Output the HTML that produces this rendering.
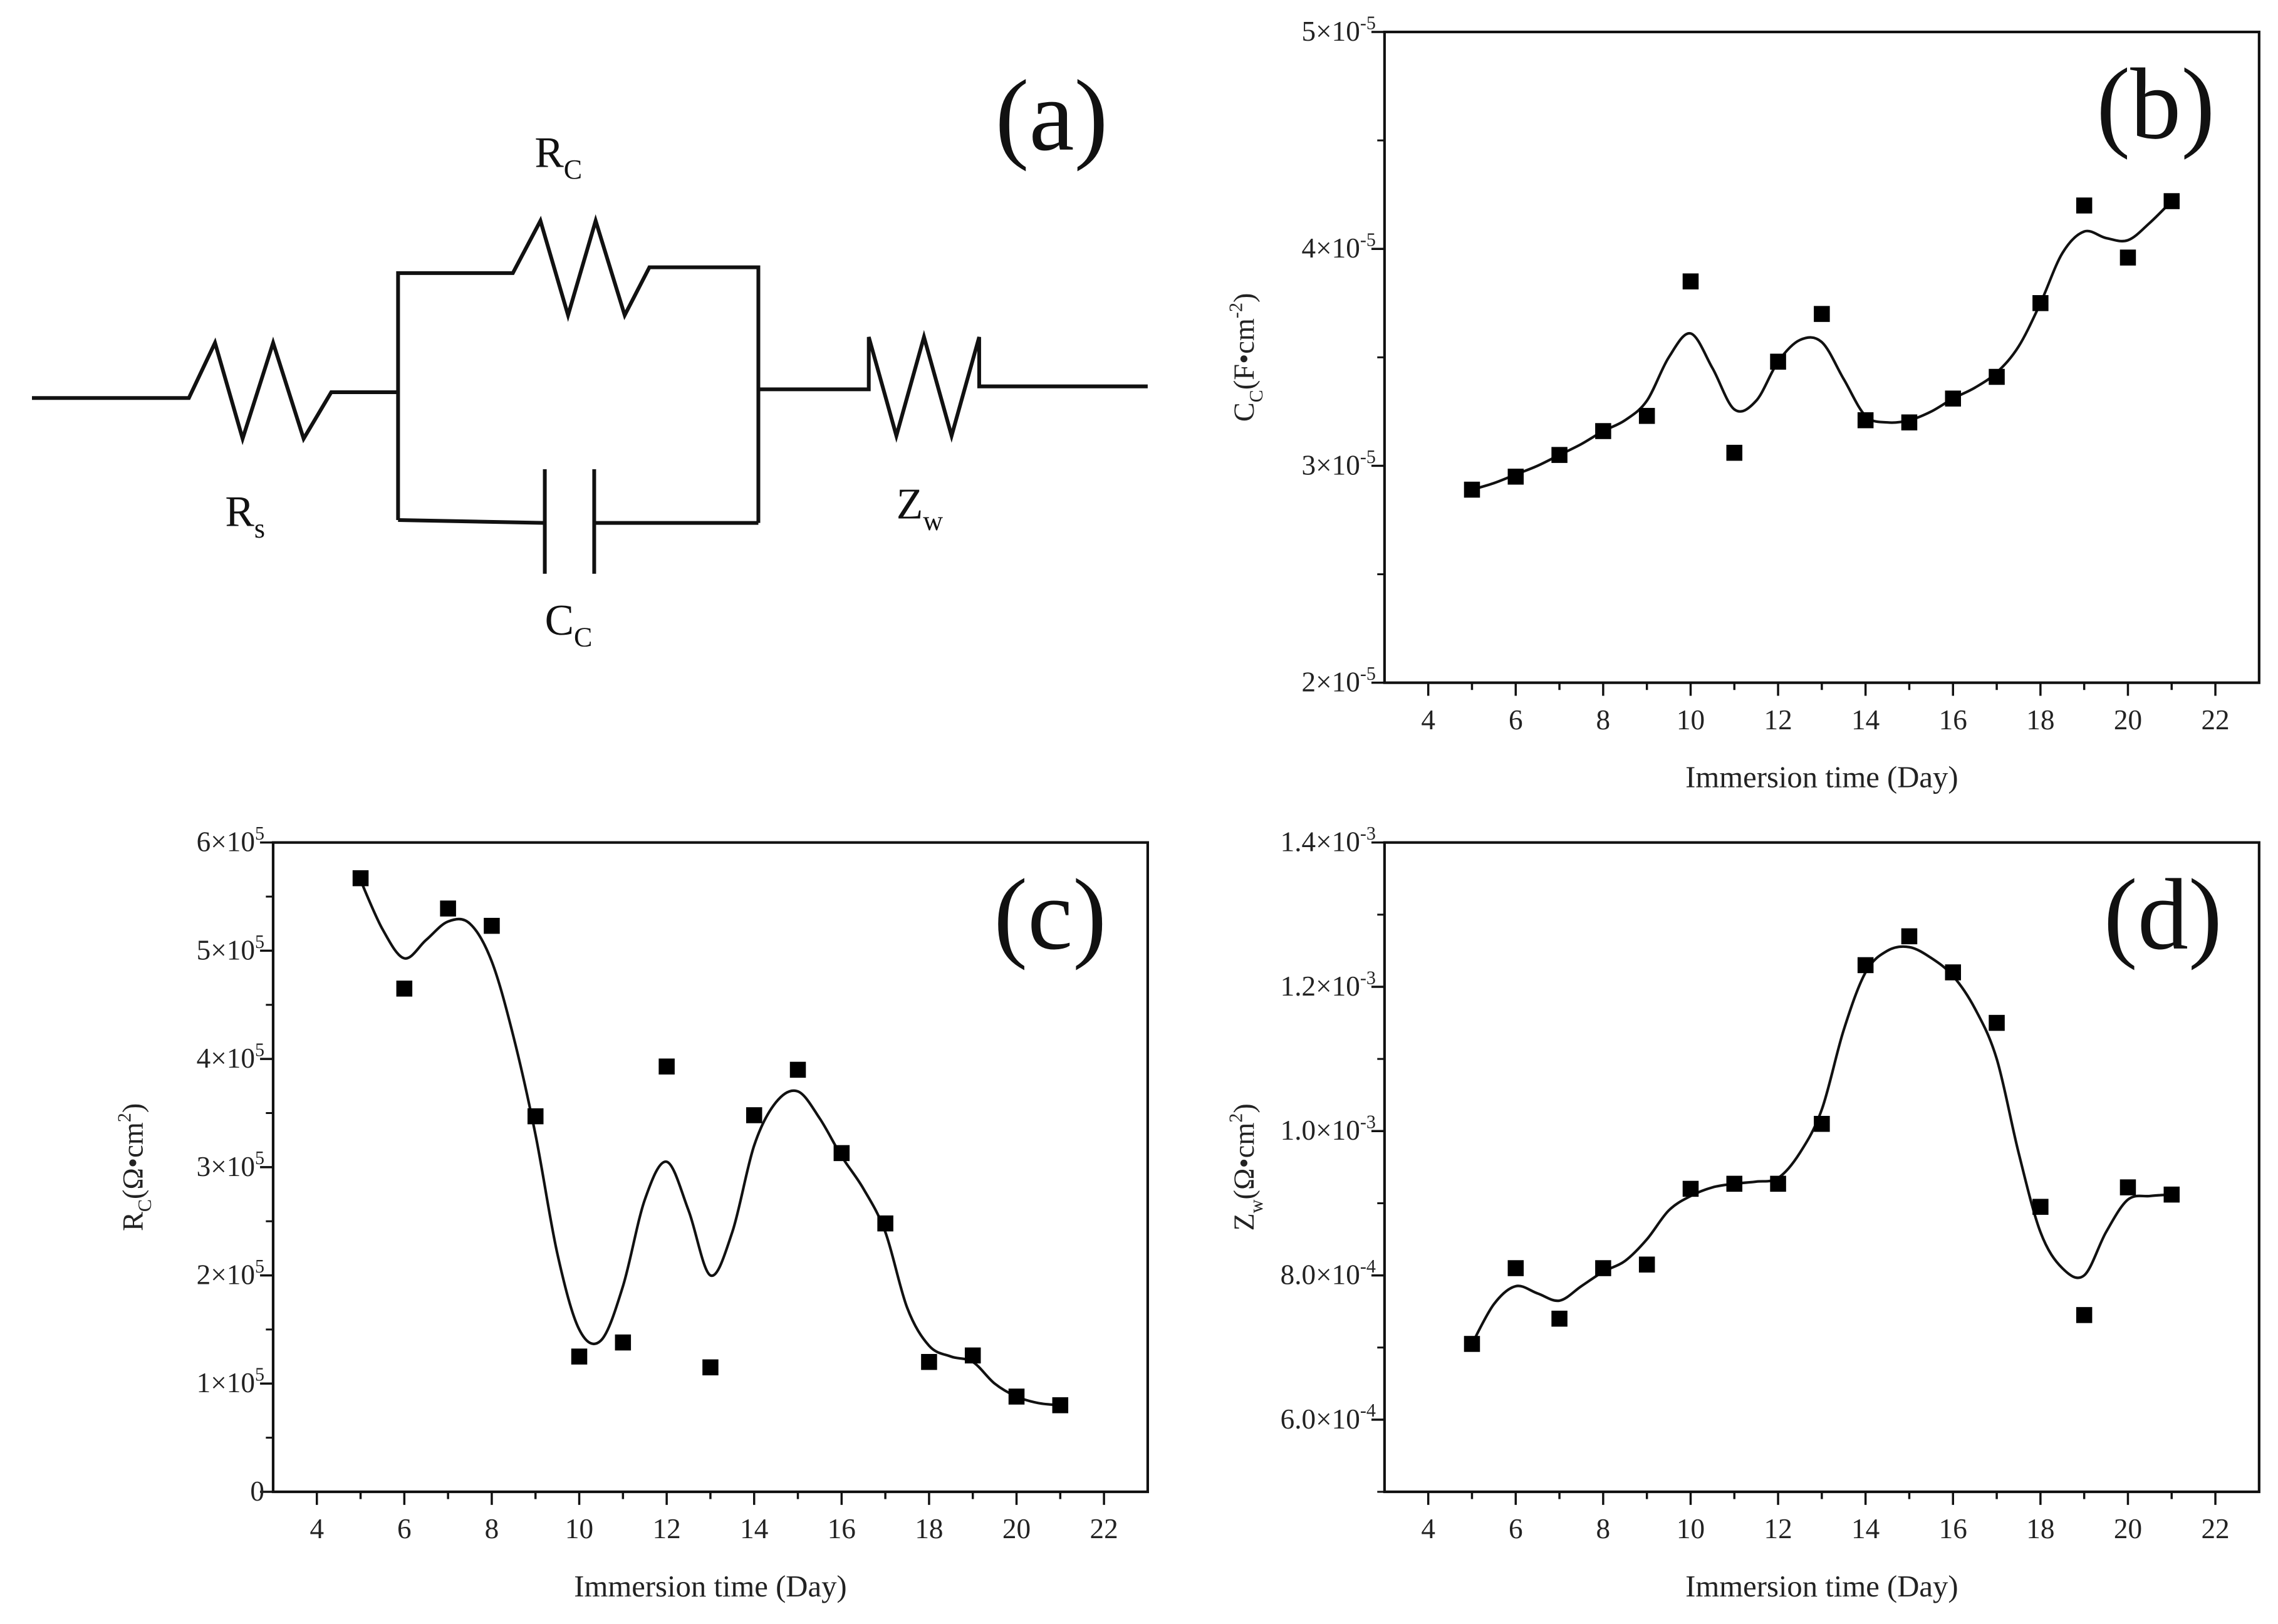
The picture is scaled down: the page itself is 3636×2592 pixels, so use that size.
<!DOCTYPE html>
<html><head><meta charset="utf-8"><style>
html,body{margin:0;padding:0;background:#fff;}
svg{display:block;font-family:"Liberation Serif",serif;}
</style></head><body>
<svg id="fig" width="3636" height="2592" viewBox="0 0 1568 1118" preserveAspectRatio="none" xmlns="http://www.w3.org/2000/svg">
<rect width="1568" height="1118" fill="#fff"/>
<g id="circuit" fill="none" stroke="#111" stroke-width="2.6" stroke-linejoin="miter">
  <polyline points="22,274 130,274 148,236 167,302 188,236 209,302 228,270 274,270"/>
  <polyline points="274,358 274,188 353,188 372,152 391,217 410,152 430,217 447,184 522,184 522,360"/>
  <polyline points="274,358 375,360"/>
  <polyline points="409,360 522,360"/>
  <line x1="375" y1="323" x2="375" y2="395"/>
  <line x1="409" y1="323" x2="409" y2="395"/>
  <polyline points="522,268 598,268 598,232 617,300 636,232 655,300 674,232 674,266 682,266 790,266"/>
</g>
<g font-size="30" fill="#111">
  <text x="368" y="115">R<tspan font-size="19" dy="8">C</tspan></text>
  <text x="155" y="362">R<tspan font-size="19" dy="8">s</tspan></text>
  <text x="375" y="437">C<tspan font-size="19" dy="8">C</tspan></text>
  <text x="617" y="357">Z<tspan font-size="19" dy="8">w</tspan></text>
</g>
<text x="685" y="103" font-size="70" fill="#111">(a)</text>
<g id="charts"></g>
</svg>
<script>
// Panel (b) data
const daysB = [5,6,7,8,9,10,11,12,13,14,15,16,17,18,19,20,21];
const valuesB = [2.89,2.95,3.05,3.16,3.23,3.85,3.06,3.48,3.70,3.21,3.20,3.31,3.41,3.75,4.20,3.96,4.22];
const fitDaysB = [5,5.5,6,6.5,7,7.5,8,8.5,9,9.5,10,10.5,11,11.5,12,12.5,13,13.5,14,14.5,15,15.5,16,16.5,17,17.5,18,18.5,19,19.5,20,20.5,21];
const fitB = [2.89,2.92,2.96,3.0,3.05,3.1,3.16,3.21,3.3,3.5,3.61,3.45,3.26,3.3,3.48,3.58,3.57,3.4,3.23,3.2,3.21,3.25,3.31,3.36,3.43,3.55,3.75,3.98,4.08,4.05,4.04,4.12,4.22];
const yTicksB = ["2×10","3×10","4×10","5×10"];
// Panel (c) data
const daysC = [5,6,7,8,9,10,11,12,13,14,15,16,17,18,19,20,21];
const valuesC = [5.67,4.65,5.39,5.23,3.47,1.25,1.38,3.93,1.15,3.48,3.90,3.13,2.48,1.20,1.26,0.88,0.80];
const fitDaysC = fitDaysB;
const fitC = [5.65,5.2,4.93,5.1,5.27,5.25,4.9,4.2,3.3,2.2,1.5,1.4,1.9,2.7,3.05,2.6,2.0,2.4,3.2,3.6,3.7,3.45,3.1,2.8,2.4,1.7,1.35,1.25,1.2,1.0,0.88,0.82,0.80];
// Panel (d) data
const daysD = [5,6,7,8,9,10,11,12,13,14,15,16,17,18,19,20,21];
const valuesD = [7.05,8.1,7.4,8.1,8.15,9.2,9.27,9.27,10.1,12.3,12.7,12.2,11.5,8.95,7.45,9.22,9.12];
const fitDaysD = fitDaysB;
const fitD = [7.05,7.6,7.85,7.75,7.65,7.85,8.05,8.2,8.5,8.9,9.1,9.22,9.27,9.3,9.35,9.7,10.3,11.4,12.2,12.5,12.55,12.4,12.15,11.7,11.0,9.7,8.6,8.1,8.0,8.6,9.05,9.1,9.12];
const xTickLabels = ["4","6","8","10","12","14","16","18","20","22"];

const NS="http://www.w3.org/2000/svg";
const root=document.getElementById('charts');
function mk(tag,attrs,parent){const e=document.createElementNS(NS,tag);for(const k in attrs)e.setAttribute(k,attrs[k]);(parent||root).appendChild(e);return e;}

function chart(cfg){
  const g=mk('g',{});
  
  
  const L=cfg.L,R=cfg.R,T=cfg.T,B=cfg.B;
  const xs=v=>L+(v-3)/(23-3)*(R-L);
  const ys=v=>B-(v-cfg.ymin)/(cfg.ymax-cfg.ymin)*(B-T);
  const frame=mk('rect',{x:L,y:T,width:R-L,height:B-T,fill:'none',stroke:'#111','stroke-width':1.8},g);
  
  
  for(let d=4;d<=22;d++){
    const major=d%2===0;
    mk('line',{x1:xs(d),x2:xs(d),y1:B,y2:B+(major?9:5),stroke:'#111','stroke-width':1.5},g);
  }
  xTickLabels.forEach(s=>{
    const t=mk('text',{x:xs(+s),y:B+32,'font-size':19.5,'text-anchor':'middle',fill:'#222'},g);
    t.textContent=s;
    
    
  });
  cfg.yMajor.forEach((v,i)=>{
    mk('line',{x1:L,x2:L-9,y1:ys(v),y2:ys(v),stroke:'#111','stroke-width':1.5},g);
    const t=mk('text',{x:L-6,y:ys(v)+6,'font-size':19.5,'text-anchor':'end',fill:'#222'},g);
    
    
    const lab=cfg.yLabels[i];
    if(lab.exp){
      const a=document.createElementNS(NS,'tspan');a.textContent=lab.m;t.appendChild(a);
      const b=document.createElementNS(NS,'tspan');b.setAttribute('dy','-8');b.setAttribute('font-size','13');b.textContent=lab.exp;t.appendChild(b);
      const c=document.createElementNS(NS,'tspan');c.setAttribute('dy','8');c.textContent='\u200b';t.appendChild(c);
    } else t.textContent=lab.m;
  });
  cfg.yMinor.forEach(v=>mk('line',{x1:L,x2:L-5,y1:ys(v),y2:ys(v),stroke:'#111','stroke-width':1.3},g));
  const P=cfg.fx.map((x,i)=>[xs(x),ys(cfg.fy[i])]);
  let d='M'+P[0][0]+','+P[0][1];
  for(let i=0;i<P.length-1;i++){
    const p0=P[i-1]||P[i],p1=P[i],p2=P[i+1],p3=P[i+2]||P[i+1];
    d+=' C'+(p1[0]+(p2[0]-p0[0])/6)+','+(p1[1]+(p2[1]-p0[1])/6)+' '+(p2[0]-(p3[0]-p1[0])/6)+','+(p2[1]-(p3[1]-p1[1])/6)+' '+p2[0]+','+p2[1];
  }
  const path=mk('path',{d:d,fill:'none',stroke:'#111','stroke-width':1.8},g);
  
  
  cfg.px.forEach((x,i)=>{
    const r=mk('rect',{x:xs(x)-5.5,y:ys(cfg.py[i])-5.5,width:11,height:11,fill:'#000'},g);
    
    
  });
  const xt=mk('text',{x:(L+R)/2,y:B+72,'font-size':21,'text-anchor':'middle',fill:'#222'},g);
  xt.textContent='Immersion time (Day)';
  
  
  const yt=mk('text',{transform:`translate(${L-90},${(T+B)/2}) rotate(-90)`,'font-size':20,'text-anchor':'middle',fill:'#222'},g);
  
  
  yt.innerHTML=cfg.ytitle;
  const pl=mk('text',{x:cfg.plx,y:T+73,'font-size':70,fill:'#111'},g);
  pl.textContent=cfg.panel;
  
  
}

chart({name:'chart-b-capacitance',L:953,R:1555,T:22,B:470,ymin:2,ymax:5,yMajor:[2,3,4,5],yMinor:[2.5,3.5,4.5],
  yLabels:yTicksB.map(s=>({m:s,exp:'-5'})),fx:fitDaysB,fy:fitB,px:daysB,py:valuesB,panel:'(b)',plx:1443,
  ytitle:'C<tspan font-size="13" dy="6">C</tspan><tspan dy="-6">(F•cm</tspan><tspan font-size="13" dy="-8">-2</tspan><tspan dy="8">)</tspan>'});
chart({name:'chart-c-resistance',L:188,R:790,T:580,B:1027,ymin:0,ymax:6,yMajor:[0,1,2,3,4,5,6],yMinor:[0.5,1.5,2.5,3.5,4.5,5.5],
  yLabels:[{m:'0'},{m:'1×10',exp:'5'},{m:'2×10',exp:'5'},{m:'3×10',exp:'5'},{m:'4×10',exp:'5'},{m:'5×10',exp:'5'},{m:'6×10',exp:'5'}],
  fx:fitDaysC,fy:fitC,px:daysC,py:valuesC,panel:'(c)',plx:684,
  ytitle:'R<tspan font-size="13" dy="6">C</tspan><tspan dy="-6">(Ω•cm</tspan><tspan font-size="13" dy="-8">2</tspan><tspan dy="8">)</tspan>'});
chart({name:'chart-d-warburg',L:953,R:1555,T:580,B:1027,ymin:5,ymax:14,yMajor:[6,8,10,12,14],yMinor:[5,7,9,11,13],
  yLabels:[{m:'6.0×10',exp:'-4'},{m:'8.0×10',exp:'-4'},{m:'1.0×10',exp:'-3'},{m:'1.2×10',exp:'-3'},{m:'1.4×10',exp:'-3'}],
  fx:fitDaysD,fy:fitD,px:daysD,py:valuesD,panel:'(d)',plx:1448,
  ytitle:'Z<tspan font-size="13" dy="6">w</tspan><tspan dy="-6">(Ω•cm</tspan><tspan font-size="13" dy="-8">2</tspan><tspan dy="8">)</tspan>'});
</script>
</body></html>
